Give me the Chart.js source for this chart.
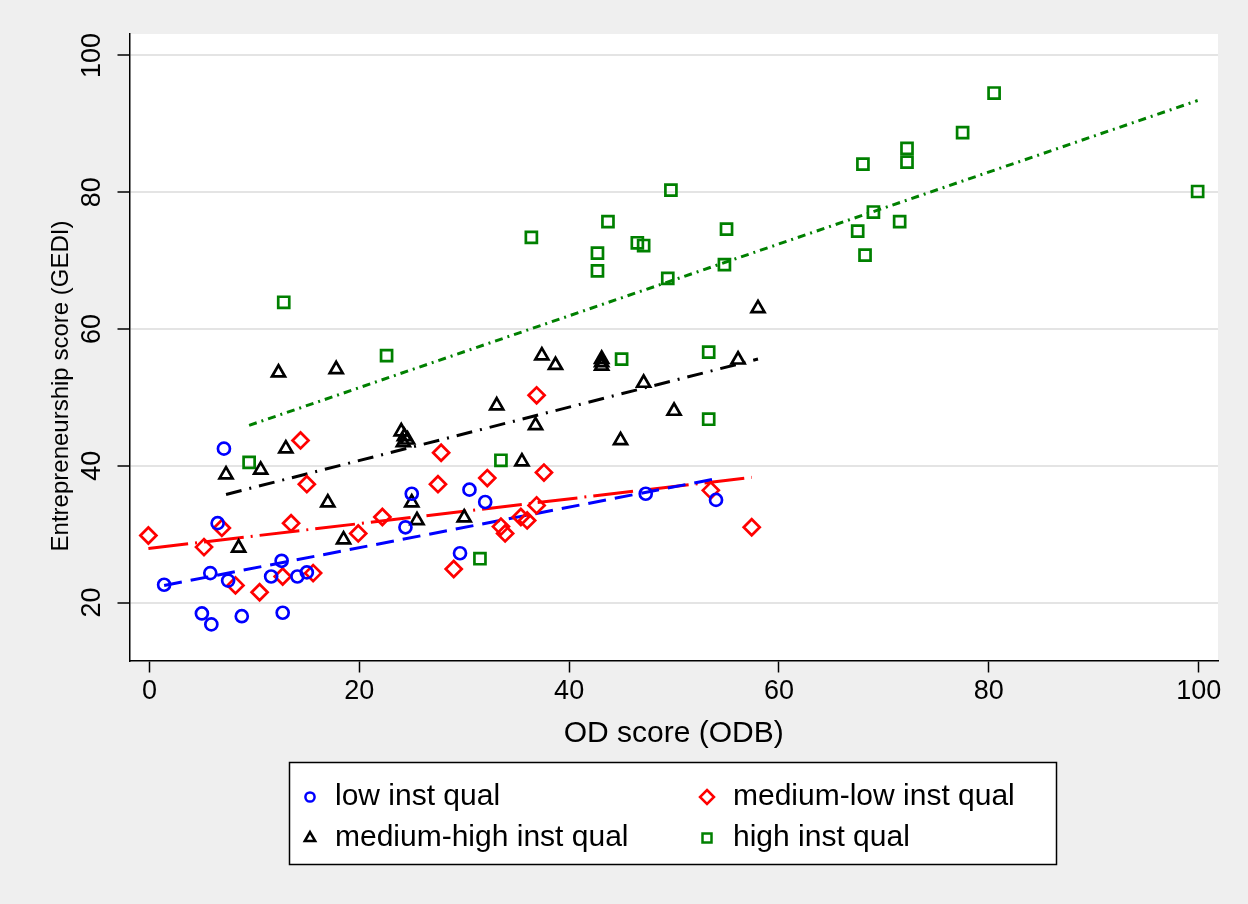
<!DOCTYPE html>
<html>
<head>
<meta charset="utf-8">
<script src="https://cdn.jsdelivr.net/npm/chart.js@4.4.0/dist/chart.umd.min.js"></script>
<style>
  html, body { margin: 0; padding: 0; background: #efefef; }
  canvas { display: block; }
</style>
</head>
<body>
<canvas id="myChart" width="1248" height="904"></canvas>
<script>
// points, x = OD score (ODB), y = Entrepreneurship score (GEDI)
const lowX = [1.4, 5.0, 5.8, 5.9, 6.5, 7.1, 7.5, 8.8, 11.6, 12.6, 12.7, 14.1, 15.0, 24.4, 25.0, 29.6, 30.5, 32.0, 47.3, 54.0];
const lowY = [22.6, 18.4, 24.3, 16.8, 31.6, 42.5, 23.2, 18.0, 23.8, 26.1, 18.5, 23.8, 24.4, 31.0, 35.9, 27.2, 36.5, 34.7, 35.9, 35.0];

const midLowX = [-0.1, 5.2, 6.9, 8.2, 10.5, 12.7, 13.5, 14.4, 15.0, 15.6, 19.9, 22.2, 27.5, 27.8, 29.0, 32.2, 33.5, 33.9, 35.4, 36.0, 36.9, 36.9, 37.6, 53.5, 57.4];
const midLowY = [29.8, 28.1, 30.9, 22.5, 21.5, 23.8, 31.6, 43.7, 37.3, 24.3, 30.1, 32.5, 37.3, 41.9, 24.9, 38.2, 31.1, 30.1, 32.5, 32.0, 34.2, 50.3, 39.0, 36.4, 31.0];

const midHighX = [7.3, 8.5, 10.6, 12.3, 13.0, 17.0, 17.8, 18.5, 24.0, 24.3, 24.6, 24.2, 25.0, 25.5, 30.0, 33.1, 35.5, 36.8, 37.4, 38.7, 43.1, 43.1, 43.1, 44.9, 47.1, 50.0, 56.1, 58.0];
const midHighY = [38.7, 28.0, 39.4, 53.6, 42.5, 34.6, 54.1, 29.2, 45.0, 44.3, 43.8, 43.4, 34.6, 32.0, 32.4, 48.8, 40.6, 45.9, 56.1, 54.7, 55.6, 55.1, 54.6, 43.7, 52.1, 48.0, 55.5, 63.0];

const highX = [9.5, 12.8, 22.6, 31.5, 33.5, 36.4, 42.7, 42.7, 43.7, 45.0, 46.5, 47.1, 49.4, 49.7, 53.3, 53.3, 54.8, 55.0, 67.5, 68.0, 68.2, 69.0, 71.5, 72.2, 72.2, 77.5, 80.5, 99.9];
const highY = [40.5, 63.9, 56.1, 26.4, 40.8, 73.4, 71.1, 68.5, 75.7, 55.6, 72.6, 72.2, 67.4, 80.3, 56.6, 46.8, 69.4, 74.6, 74.3, 84.1, 70.8, 77.1, 75.7, 86.4, 84.4, 88.7, 94.5, 80.1];

// fitted lines (start / end)
const fitLowX = [1.4, 54.0];
const fitLowY = [22.5, 38.1];
const fitMidLowX = [-0.1, 57.4];
const fitMidLowY = [27.9, 38.3];
const fitMidHighX = [7.3, 58.0];
const fitMidHighY = [35.8, 55.6];
const fitHighX = [9.5, 99.9];
const fitHighY = [45.9, 93.4];

const xTicks = [0, 20, 40, 60, 80, 100];
const yTicks = [20, 40, 60, 80, 100];
const groupLabels = ["low inst qual", "medium-low inst qual", "medium-high inst qual", "high inst qual"];

const BLUE = "#0000ff", RED = "#ff0000", BLACK = "#000000", GREEN = "#008000";
const FONT = "'Liberation Sans', Arial, Helvetica, sans-serif";

function pts(xs, ys) {
    return xs.map((x, i) => ({ x: x, y: ys[i] }));
}

function scatterSet(label, xs, ys, color, style, radius) {
    return {
        type: 'scatter',
        label: label,
        data: pts(xs, ys),
        pointStyle: style,
        pointRadius: radius,
        pointBorderWidth: 2.7,
        pointBorderColor: color,
        pointBackgroundColor: 'rgba(0,0,0,0)',
        borderColor: color,
        showLine: false
    };
}

function fitSet(xs, ys, color, dash) {
    return {
        type: 'line',
        label: '_fit',
        data: pts(xs, ys),
        borderColor: color,
        borderWidth: 3,
        borderDash: dash,
        borderCapStyle: 'butt',
        pointRadius: 0,
        fill: false,
        tension: 0
    };
}

// hand drawn legend marker (same shapes as the points)
function legendMarker(ctx, shape, x, y, color) {
    ctx.save();
    ctx.strokeStyle = color;
    ctx.lineWidth = 2.5;
    ctx.beginPath();
    if (shape === 'circle') {
        ctx.arc(x, y, 4.6, 0, Math.PI * 2);
    } else if (shape === 'rectRot') {
        ctx.moveTo(x, y - 7); ctx.lineTo(x + 7, y); ctx.lineTo(x, y + 7); ctx.lineTo(x - 7, y); ctx.closePath();
    } else if (shape === 'triangle') {
        let r = 6;
        for (let k = 0; k < 3; k++) {
            let a = k * 2 * Math.PI / 3;
            let px = x + Math.sin(a) * r, py = y - Math.cos(a) * r;
            if (k === 0) ctx.moveTo(px, py); else ctx.lineTo(px, py);
        }
        ctx.closePath();
    } else {
        ctx.rect(x - 4.5, y - 4.5, 9, 9);
    }
    ctx.stroke();
    ctx.restore();
}

const stataLook = {
    id: 'stataLook',
    beforeDraw(chart) {
        const ctx = chart.ctx;
        const a = chart.chartArea;
        ctx.save();
        ctx.fillStyle = '#efefef';
        ctx.fillRect(0, 0, chart.width, chart.height);
        ctx.fillStyle = '#ffffff';
        ctx.fillRect(a.left, a.top, a.right - a.left, a.bottom - a.top);
        ctx.restore();
    },
    afterDraw(chart) {
        const ctx = chart.ctx;
        const ys = chart.scales.y;
        const a = chart.chartArea;
        ctx.save();
        ctx.fillStyle = '#000';

        // y tick labels, turned like the original
        ctx.font = "27px " + FONT;
        ctx.textAlign = 'center';
        ctx.textBaseline = 'middle';
        yTicks.forEach(v => {
            const py = ys.getPixelForValue(v);
            ctx.save();
            ctx.translate(93, py);
            ctx.rotate(-Math.PI / 2);
            ctx.fillText(String(v), 0, 0);
            ctx.restore();
        });

        // axis titles
        ctx.font = "24px " + FONT;
        ctx.save();
        ctx.translate(61, 386);
        ctx.rotate(-Math.PI / 2);
        ctx.fillText("Entrepreneurship score (GEDI)", 0, 0);
        ctx.restore();

        ctx.font = "30px " + FONT;
        ctx.fillText("OD score (ODB)", (a.left + a.right) / 2, 734);

        // legend box
        const bx = 289.5, by = 762.5, bw = 767, bh = 102;
        ctx.fillStyle = '#ffffff';
        ctx.fillRect(bx, by, bw, bh);
        ctx.strokeStyle = '#000';
        ctx.lineWidth = 1.5;
        ctx.strokeRect(bx, by, bw, bh);

        const entries = [
            { shape: 'circle', color: BLUE, mx: 310, tx: 335, y: 797 },
            { shape: 'rectRot', color: RED, mx: 707, tx: 733, y: 797 },
            { shape: 'triangle', color: BLACK, mx: 310, tx: 335, y: 838 },
            { shape: 'rect', color: GREEN, mx: 707, tx: 733, y: 838 }
        ];
        ctx.font = "30px " + FONT;
        ctx.textAlign = 'left';
        ctx.fillStyle = '#000';
        entries.forEach((e, i) => {
            legendMarker(ctx, e.shape, e.mx, e.y, e.color);
            ctx.fillText(groupLabels[i], e.tx, e.y);
        });
        ctx.restore();
    }
};

const ctx = document.getElementById('myChart');

const chart = new Chart(ctx, {
    type: 'scatter',
    data: {
        datasets: [
            scatterSet(groupLabels[0], lowX, lowY, BLUE, 'circle', 6),
            scatterSet(groupLabels[1], midLowX, midLowY, RED, 'rectRot', 8),
            scatterSet(groupLabels[2], midHighX, midHighY, BLACK, 'triangle', 7.5),
            scatterSet(groupLabels[3], highX, highY, GREEN, 'rect', 7.8),
            fitSet(fitLowX, fitLowY, BLUE, [18, 9]),
            fitSet(fitMidLowX, fitMidLowY, RED, [40, 7, 2, 7]),
            fitSet(fitMidHighX, fitMidHighY, BLACK, [16, 8, 2, 8]),
            fitSet(fitHighX, fitHighY, GREEN, [8, 5, 2, 5])
        ]
    },
    options: {
        responsive: false,
        devicePixelRatio: 1,
        animation: false,
        layout: {
            padding: { left: 0, top: 34, right: 30, bottom: 0 }
        },
        plugins: {
            legend: { display: false },
            tooltip: { enabled: false }
        },
        scales: {
            x: {
                type: 'linear',
                min: -1.9,
                max: 101.84,
                afterBuildTicks: (s) => { s.ticks = xTicks.map(v => ({ value: v })); },
                afterFit: (s) => { s.height = 243.5; },
                grid: {
                    drawOnChartArea: false,
                    drawTicks: true,
                    tickLength: 12,
                    tickColor: '#000',
                    tickWidth: 1.5
                },
                border: { display: true, color: '#000', width: 1.5 },
                ticks: {
                    color: '#000',
                    padding: 3,
                    maxRotation: 0,
                    font: { family: FONT, size: 27 }
                }
            },
            y: {
                type: 'linear',
                min: 11.52,
                max: 103.13,
                afterBuildTicks: (s) => { s.ticks = yTicks.map(v => ({ value: v })); },
                afterFit: (s) => { s.width = 129.5; },
                grid: {
                    color: '#e4e4e4',
                    lineWidth: 2,
                    drawTicks: true,
                    tickLength: 12,
                    tickColor: '#000',
                    tickWidth: 1.5
                },
                border: { display: true, color: '#000', width: 1.5 },
                ticks: { display: false }
            }
        }
    },
    plugins: [stataLook]
});
</script>
</body>
</html>
